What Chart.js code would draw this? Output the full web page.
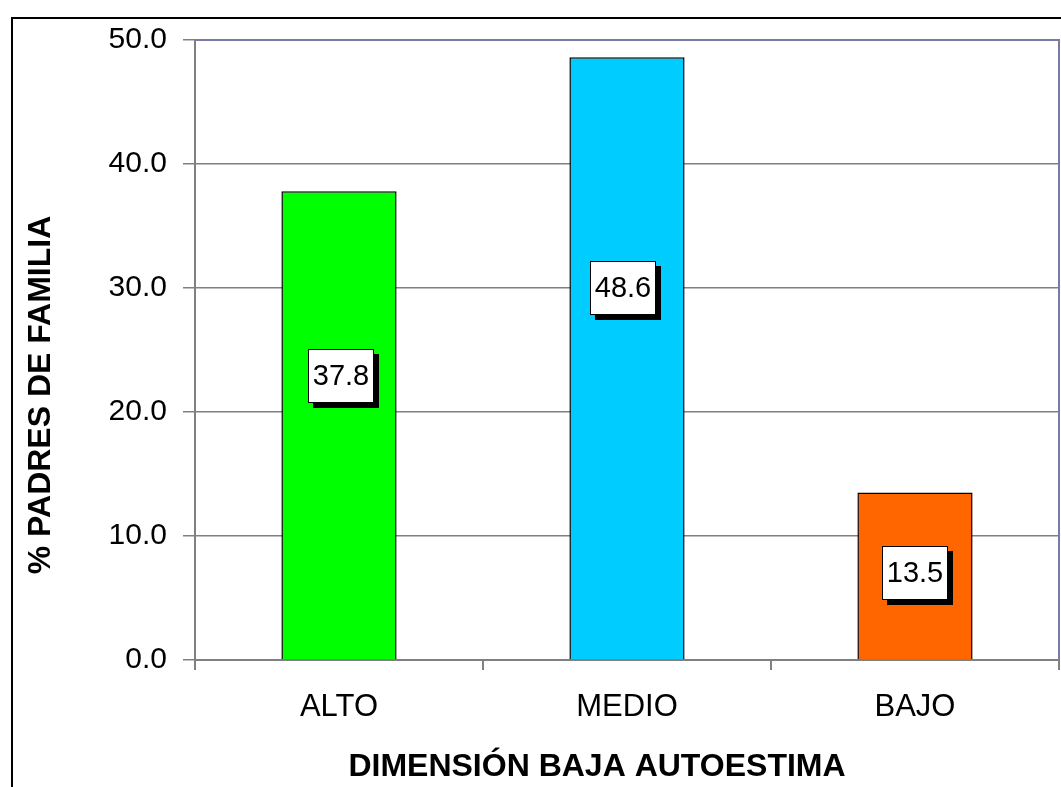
<!DOCTYPE html>
<html>
<head>
<meta charset="utf-8">
<script src="https://cdn.jsdelivr.net/npm/chart.js@4/dist/chart.umd.min.js"></script>
<style>
  html, body { margin: 0; padding: 0; background: #fff; overflow: hidden; }
  #wrap { width: 1061px; height: 787px; position: relative; }
</style>
</head>
<body>
<div id="wrap"><canvas id="c" width="1061" height="787"></canvas></div>
<script>
const categories = ["ALTO", "MEDIO", "BAJO"];
const values = [37.8, 48.6, 13.5];
const barColors = ["#00ff00", "#00ccff", "#ff6600"];
const yTicks = [0, 10, 20, 30, 40, 50];
const yTitle = "% PADRES DE FAMILIA";
const xTitle = "DIMENSIÓN BAJA AUTOESTIMA";

const FONT = "'Liberation Sans', Arial, sans-serif";

const frame = {
  id: "frame",
  beforeDraw(chart) {
    const ctx = chart.ctx;
    ctx.save();
    ctx.fillStyle = "#fff";
    ctx.fillRect(0, 0, chart.width, chart.height);
    ctx.strokeStyle = "#000";
    ctx.lineWidth = 2;
    ctx.strokeRect(12, 18, 1200, 1000);
    ctx.restore();
  },
  afterDatasetsDraw(chart, args, opts) {
    const ctx = chart.ctx;
    const a = chart.chartArea;
    ctx.save();
    // plot area top/right border
    ctx.strokeStyle = "#7a7aa6";
    ctx.lineWidth = 2;
    ctx.beginPath();
    ctx.moveTo(a.left, a.top);
    ctx.lineTo(a.right, a.top);
    ctx.lineTo(a.right, a.bottom);
    ctx.stroke();
    // axis titles
    ctx.fillStyle = "#000";
    ctx.font = "bold 32px " + FONT;
    ctx.textAlign = "center";
    ctx.textBaseline = "middle";
    ctx.fillText(opts.xTitle, opts.xTitleX, opts.xTitleY);
    ctx.save();
    ctx.translate(opts.yTitleX, opts.yTitleY);
    ctx.rotate(-Math.PI / 2);
    ctx.fillText(opts.yTitle, 0, 0);
    ctx.restore();
    // value labels
    const meta = chart.getDatasetMeta(0);
    const fr = opts.fractions;
    ctx.font = "29px " + FONT;
    meta.data.forEach((bar, i) => {
      const v = chart.data.datasets[0].data[i];
      const cx = bar.x + opts.dx[i];
      const cy = bar.base - (bar.base - bar.y) * fr[i];
      const w = 66, h = 54, sh = 5;
      const x0 = Math.round(cx - w / 2), y0 = Math.round(cy - h / 2);
      ctx.fillStyle = "#000";
      ctx.fillRect(x0 + sh, y0 + sh, w, h);
      ctx.fillStyle = "#fff";
      ctx.fillRect(x0, y0, w, h);
      ctx.strokeStyle = "#000";
      ctx.lineWidth = 1;
      ctx.strokeRect(x0 + 0.5, y0 + 0.5, w - 1, h - 1);
      ctx.fillStyle = "#000";
      ctx.fillText(v.toFixed(1), cx, cy + 1);
    });
    ctx.restore();
  }
};

new Chart(document.getElementById("c"), {
  type: "bar",
  data: {
    labels: categories,
    datasets: [{
      data: values,
      backgroundColor: barColors,
      borderColor: "#000",
      borderWidth: 1.5,
      barPercentage: 0.4,
      categoryPercentage: 1.0
    }]
  },
  options: {
    responsive: false,
    animation: false,
    devicePixelRatio: 1,
    layout: { padding: { left: 0, top: 40, right: 2, bottom: 0 } },
    plugins: {
      legend: { display: false },
      tooltip: { enabled: false },
      frame: {
        fractions: [0.605, 0.616, 0.52],
        dx: [2, -4, 0],
        xTitle: xTitle, xTitleX: 597, xTitleY: 767,
        yTitle: yTitle, yTitleX: 41, yTitleY: 395
      }
    },
    scales: {
      x: {
        offset: true,
        grid: {
          display: true,
          offset: true,
          drawOnChartArea: false,
          drawTicks: true,
          tickLength: 10,
          color: "#808080",
          lineWidth: 2
        },
        border: { display: true, color: "#808080", width: 2 },
        ticks: { color: "#000", font: { family: FONT, size: 31 }, padding: 19 },
        title: { display: false },
        afterFit(scale) { scale.height = 127; }
      },
      y: {
        min: 0, max: 50,
        afterBuildTicks(scale) { scale.ticks = yTicks.map(v => ({ value: v })); },
        grid: {
          color: "#808080",
          lineWidth: 1.5,
          drawTicks: true,
          tickLength: 12
        },
        border: { display: true, color: "#808080", width: 2 },
        ticks: {
          color: "#000",
          font: { family: FONT, size: 30 },
          padding: 16,
          callback: v => Number(v).toFixed(1)
        },
        title: { display: false },
        afterFit(scale) { scale.width = 195; }
      }
    }
  },
  plugins: [frame]
});
</script>
</body>
</html>
